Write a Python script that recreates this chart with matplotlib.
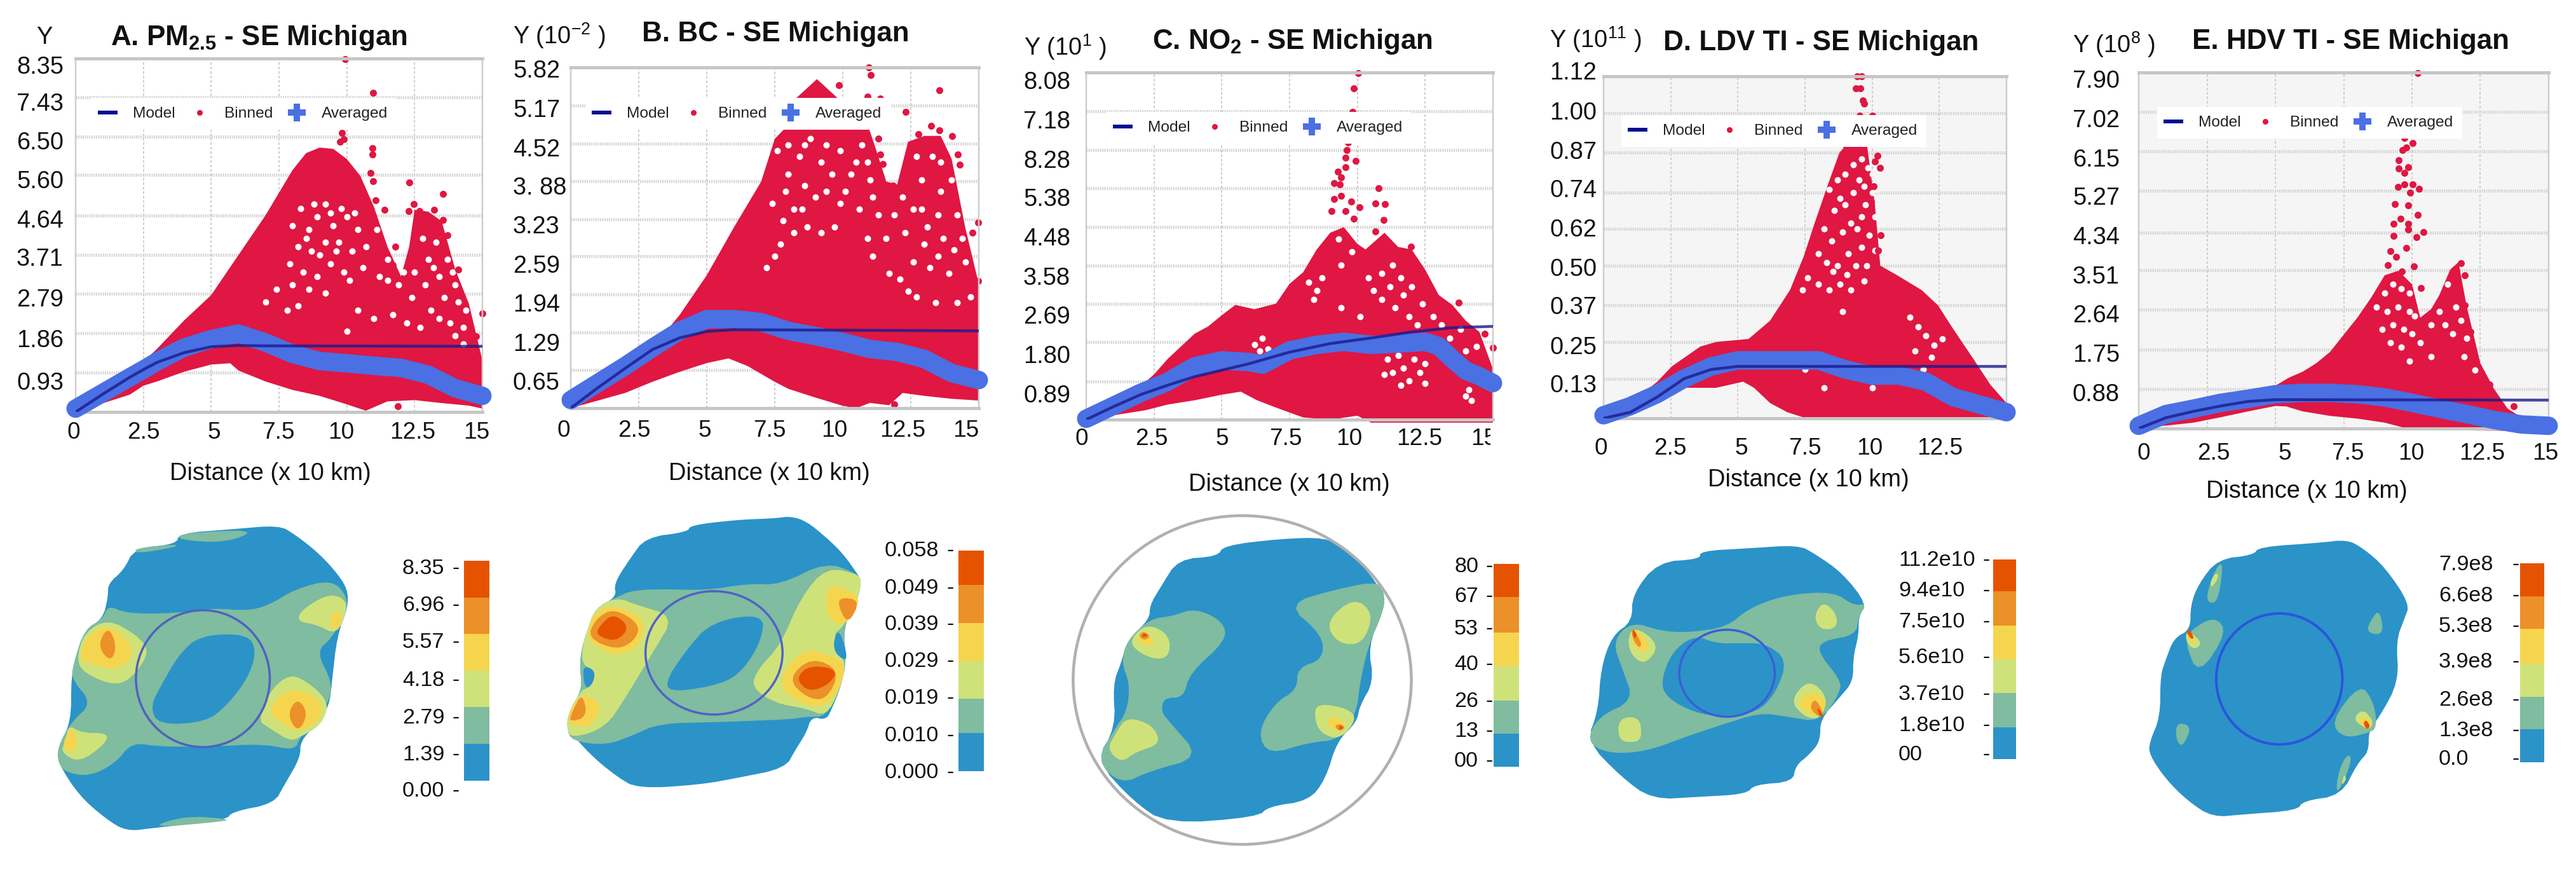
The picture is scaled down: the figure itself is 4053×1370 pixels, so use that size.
import matplotlib
matplotlib.use("Agg")
import matplotlib.pyplot as plt
import numpy as np
from matplotlib.lines import Line2D
from matplotlib.patches import Ellipse, Rectangle

plt.rcParams['font.family'] = ['Liberation Sans', 'DejaVu Sans']
plt.rcParams['mathtext.fontset'] = 'custom'
plt.rcParams['mathtext.rm'] = 'Liberation Sans'
plt.rcParams['mathtext.bf'] = 'Liberation Sans:bold'

W, H = 4053, 1370
PX = 0.72  # px to points at dpi 100

RED = '#df1742'
BLUE = '#4a70e4'
NAVY = '#1a1a8c'
MAP_COLORS = ['#2b93c8', '#7fbca0', '#cfe27a', '#f6d54e', '#ec9029', '#e55300']

x_tick_vals = [0, 2.5, 5, 7.5, 10, 12.5, 15]

# ---- A. PM2.5
a_yticks = [0.93, 1.86, 2.79, 3.71, 4.64, 5.60, 6.50, 7.43, 8.35]
a_ylabels = ['0.93', '1.86', '2.79', '3.71', '4.64', '5.60', '6.50', '7.43', '8.35']
a_upper = [(0, .08), (1, .52), (2, .88), (2.5, 1.19), (3, 1.49), (4, 2.16), (5, 2.76), (6, 3.70), (7, 4.64), (8, 5.71),
           (8.5, 6.11), (9, 6.24), (9.5, 6.21), (10, 5.97), (10.5, 5.57), (11, 4.84), (11.5, 3.9), (12, 3.2), (12.3, 3.9),
           (12.5, 4.77), (13, 4.73), (13.5, 4.5), (14, 3.36), (14.5, 2.56), (15, 1.22)]
a_lower = [(0, 0), (2, .41), (2.5, .62), (3, .72), (4, .95), (5, 1.12), (5.7, 1.15), (6, .98), (7, .72), (8, .52), (9, .38),
           (10, .18), (10.7, .03), (11.5, .25), (12.5, .28), (13.5, .21), (14.5, .15), (15, .08)]
a_avg = [(0, .08), (1, .45), (2, .82), (2.5, 1.0), (3, 1.19), (4, 1.52), (5, 1.72), (6, 1.85), (7, 1.64), (8, 1.37), (9, 1.2),
         (10, 1.15), (11, 1.09), (12, 1.04), (13, .88), (14, .56), (15, .38)]
a_model = [(0, 0), (1, .42), (2, .82), (2.5, 1.0), (3, 1.17), (4, 1.40), (5, 1.54), (6, 1.57), (7, 1.56), (15, 1.55)]
a_out = [(9.93, 8.33), (10.98, 7.53), (9.81, 6.58), (9.89, 6.44), (9.75, 6.38), (10.94, 6.23), (10.94, 6.07), (10.88, 5.64),
         (10.98, 5.44), (12.3, 5.41), (13.54, 5.14), (11.07, 5.0), (11.4, 4.77), (12.47, 4.9), (12.28, 4.74), (12.67, 4.74),
         (13.21, 4.77), (13.54, 4.53), (11.31, 3.9), (11.7, 3.46), (11.79, 3.9), (13.7, 4.17), (14.12, 3.36), (15, 2.32),
         (14.77, 1.79), (11.89, .13)]
a_holes = [(8.0, 4.4), (8.3, 4.8), (8.6, 4.3), (8.9, 4.6), (9.2, 4.9), (9.5, 4.4), (9.7, 4.0), (9.2, 4.0), (8.7, 3.8), (8.2, 3.9),
           (7.9, 3.5), (8.4, 3.3), (8.9, 3.2), (9.4, 3.5), (9.9, 3.3), (10.2, 3.8), (10.4, 4.3), (10.0, 4.6), (10.6, 3.4), (7.4, 2.9),
           (7.0, 2.6), (7.8, 2.4), (8.2, 2.5), (10.4, 2.4), (11.0, 2.2), (11.7, 2.3), (12.2, 2.1), (10.0, 1.9), (11.2, 3.2), (11.5, 3.1),
           (13.0, 3.6), (13.4, 3.2), (12.9, 3.0), (13.6, 2.7), (13.1, 2.4), (13.8, 2.1), (14.1, 2.6), (14.3, 2.0), (12.8, 4.1), (13.3, 4.0),
           (14.3, 1.6), (12.7, 2.0), (13.9, 3.3), (8.5, 4.1), (8.8, 4.9), (9.4, 4.7), (9.8, 4.8), (10.3, 4.7), (9.0, 3.7), (9.6, 3.8),
           (10.1, 3.1), (10.7, 3.9), (11.1, 4.3), (11.5, 3.6), (11.9, 3.0), (12.1, 3.3), (13.2, 3.4), (13.7, 3.6), (14.0, 3.0), (14.4, 2.4),
           (12.5, 3.3), (12.4, 2.7), (13.4, 2.2), (14.0, 1.8), (8.6, 2.9), (8.0, 3.0), (9.2, 2.8)]

# ---- B. BC
b_yticks = [0.65, 1.29, 1.94, 2.59, 3.23, 3.88, 4.52, 5.17, 5.82]
b_ylabels = ['0.65', '1.29', '1.94', '2.59', '3.23', '3. 88', '4.52', '5.17', '5.82']
b_upper = [(0, .09), (2.5, .72), (3, 1.03), (4, 1.59), (5, 2.27), (6, 3.09), (7, 3.87), (7.5, 4.6), (8, 4.84), (8.3, 5.3), (9.05, 5.62),
           (9.8, 5.3), (10, 5.2), (10.8, 5.0), (11.2, 4.45), (11.6, 3.87), (12, 3.82), (12.4, 4.55), (13, 4.65), (13.6, 4.65),
           (14, 4.26), (14.5, 3.09), (15, 2.12)]
b_lower = [(0, 0), (2, .26), (3, .45), (4, .62), (5, .77), (5.8, .85), (6.5, .72), (7.5, .45), (8, .33), (9, .18), (10, .04),
           (10.5, 0), (11, .09), (11.7, .05), (12.2, .26), (13, .21), (14, .16), (15, .13)]
b_avg = [(0, .14), (1, .43), (2, .72), (3, 1.03), (4, 1.32), (5, 1.52), (6, 1.52), (7, 1.47), (8, 1.32), (9, 1.23), (10, 1.13),
         (11, 1.01), (12, .96), (13, .84), (14, .6), (15, .48)]
b_model = [(0, 0), (1, .35), (2, .68), (3, 1.0), (4, 1.2), (5, 1.31), (6, 1.34), (15, 1.32)]
b_out = [(10.95, 5.82), (11.02, 5.69), (9.85, 5.52), (10.91, 5.32), (11.39, 5.29), (13.56, 5.43), (12.31, 5.06), (13.25, 4.82),
         (13.56, 4.74), (14.02, 4.65), (12.79, 4.68), (11.31, 4.6), (11.37, 4.33), (11.48, 4.17), (11.85, 3.8), (14.23, 4.33),
         (14.29, 4.16), (14.77, 3.0), (14.98, 3.17), (14.98, 2.17), (11.89, .06)]
b_holes = [(7.6, 4.4), (8.0, 4.0), (8.4, 4.3), (8.8, 4.6), (9.2, 4.2), (8.6, 3.8), (9.4, 3.7), (9.9, 4.4), (10.3, 4.0), (10.7, 4.5),
           (9.9, 3.5), (10.6, 3.4), (7.4, 3.5), (7.8, 3.2), (8.2, 3.4), (8.7, 3.1), (9.2, 3.0), (7.5, 2.6), (7.2, 2.4), (7.7, 2.8),
           (11.0, 3.9), (11.3, 3.3), (11.6, 2.9), (11.1, 2.6), (11.9, 3.3), (12.3, 3.0), (12.6, 3.4), (12.9, 3.9), (13.3, 4.3), (13.6, 3.7),
           (14.0, 3.9), (13.1, 3.1), (13.7, 2.9), (14.2, 3.3), (12.6, 2.5), (13.2, 2.4), (13.9, 2.3), (14.5, 2.5), (12.1, 2.2), (12.7, 1.9),
           (13.4, 1.8), (14.2, 1.8), (14.7, 1.9), (11.7, 2.3), (8.0, 4.5), (8.6, 4.5), (9.4, 4.5), (9.0, 3.6), (8.2, 3.0), (9.6, 4.0),
           (10.1, 3.7), (10.5, 4.2), (10.9, 4.2), (11.1, 3.6), (12.2, 3.6), (12.7, 4.3), (13.6, 4.2), (13.0, 2.8), (14.4, 2.9), (12.9, 3.4),
           (13.5, 3.3), (14.1, 2.7), (13.5, 2.6), (7.9, 3.7), (8.5, 3.4), (9.7, 3.1), (10.9, 2.9), (12.4, 2.0)]

# ---- C. NO2 (third label really reads 8.28 in the source)
c_yticks = [0.89, 1.80, 2.69, 3.58, 4.48, 5.38, 6.28, 7.18, 8.08]
c_ylabels = ['0.89', '1.80', '2.69', '3.58', '4.48', '5.38', '8.28', '7.18', '8.08']
c_upper = [(0, .22), (1, .52), (2, .78), (2.5, 1.05), (3, 1.41), (4, 2.0), (4.5, 2.17), (5, 2.43), (5.5, 2.67), (6.2, 2.57), (7, 2.7),
           (7.5, 3.16), (8, 3.43), (8.5, 3.96), (9, 4.35), (9.5, 4.48), (10, 4.09), (10.3, 3.96), (11, 4.35), (11.5, 4.02), (12, 3.96),
           (12.5, 3.49), (13, 2.9), (13.5, 2.67), (14, 2.3), (14.5, 2.04), (15, 1.18)]
c_lower = [(0, 0), (2.2, .22), (3, .35), (4, .45), (5, .58), (5.7, .65), (6.3, .45), (7, .28), (8, .05), (9, 0), (10, .09), (10.5, -.07), (15, -.07)]
c_avg = [(0, .02), (1, .32), (2, .62), (3, .88), (4, 1.24), (5, 1.38), (6, 1.34), (6.5, 1.28), (7.5, 1.61), (8.5, 1.74), (9.5, 1.81),
         (10.5, 1.74), (11.5, 1.77), (12.5, 1.81), (13, 1.71), (13.5, 1.41), (14, 1.14), (14.5, 1.01), (15, .85)]
c_model = [(0, 0), (1, .3), (2, .58), (3, .8), (4, 1.0), (5, 1.15), (6, 1.3), (7.5, 1.57), (9, 1.77), (10.5, 1.9), (12, 2.04), (13.5, 2.14), (15, 2.17)]
c_out = [(10.04, 8.07), (9.87, 7.71), (9.81, 7.16), (9.66, 6.45), (9.62, 6.27), (9.56, 6.1), (9.94, 6.02), (9.56, 5.87), (9.29, 5.77),
         (9.41, 5.64), (9.14, 5.51), (9.35, 5.48), (10.77, 5.38), (9.41, 5.21), (9.14, 5.13), (10.67, 5.03), (11.02, 5.01), (9.77, 5.08),
         (10.08, 4.95), (9.04, 4.85), (9.56, 4.85), (10.98, 4.65), (9.87, 4.68), (10.67, 4.38), (11.97, 4.02), (13.74, 2.73), (14.69, 2.0),
         (15, 1.67), (4.75, 2.17)]
c_holes = [(8.2, 3.2), (8.5, 3.0), (8.7, 3.3), (8.4, 2.8), (10.4, 3.3), (10.6, 3.0), (10.9, 3.4), (10.9, 2.8), (11.2, 3.1), (11.4, 2.6),
           (11.7, 2.9), (11.9, 2.4), (12.2, 2.2), (12.4, 2.7), (13.4, 1.9), (13.8, 2.1), (14.0, 1.6), (14.4, 1.7), (6.2, 1.75), (6.5, 1.9),
           (6.7, 1.65), (6.4, 1.6), (11.1, 1.4), (11.3, 1.1), (11.5, 1.5), (11.7, 1.2), (11.9, .9), (12.1, 1.4), (12.3, 1.1), (12.5, .85),
           (11.6, .8), (14.0, .55), (14.2, .45), (14.1, .7), (9.4, 2.6), (9.4, 3.6), (10.1, 2.4), (9.8, 3.9), (9.3, 4.2), (11.3, 3.6),
           (11.6, 3.3), (12.0, 3.1), (12.8, 2.4), (13.1, 2.2), (11.0, 1.05), (12.5, 1.3)]

# ---- D. LDV TI
d_yticks = [0.13, 0.25, 0.37, 0.50, 0.62, 0.74, 0.87, 1.00, 1.12]
d_ylabels = ['0.13', '0.25', '0.37', '0.50', '0.62', '0.74', '0.87', '1.00', '1.12']
d_upper = [(0, .01), (1, .05), (2, .12), (2.54, .17), (3.6, .235), (4.19, .25), (5.4, .26), (6.2, .32), (6.94, .42), (7.45, .53), (7.86, .64),
           (8.37, .77), (8.78, .87), (9.09, .9), (9.8, .9), (10.1, .7), (10.3, .5), (10.9, .47), (11.84, .42), (12.45, .37), (12.96, .3),
           (13.8, .19), (14.4, .11), (15, .05)]
d_lower = [(0, 0), (1, .02), (2, .06), (3, .1), (4.19, .1), (5.2, .12), (5.6, .1), (6.2, .05), (6.84, .02), (7.55, 0), (15, 0)]
d_avg = [(0, .01), (1, .04), (2, .08), (3, .13), (4, .17), (5, .19), (6, .19), (7, .19), (8, .19), (9, .16), (10, .14), (11, .14), (12, .12),
         (13, .07), (14, .045), (15, .02)]
d_model = [(0, 0), (1, .02), (2, .07), (3, .13), (4, .16), (5, .17), (15, .17)]
d_out = [(9.45, 1.12), (9.6, 1.12), (9.39, 1.08), (9.55, 1.08), (9.66, 1.04), (9.7, 1.03), (9.53, .99), (10.0, .99), (9.04, .89), (9.29, .89),
         (10.2, .86), (10.3, .82), (10.1, .84), (10.06, .76), (9.96, .71), (10.31, .6), (10.21, .55), (10.1, .51), (9.39, .07)]
d_holes = [(8.4, .75), (8.7, .78), (9.0, .8), (9.3, .83), (9.6, .85), (8.6, .68), (9.0, .7), (9.3, .74), (9.7, .76), (10.0, .74), (10.0, .8),
           (8.2, .62), (8.5, .58), (8.9, .61), (9.2, .64), (9.6, .66), (9.9, .6), (9.6, .56), (8.0, .54), (8.3, .51), (8.7, .5), (9.1, .54),
           (9.4, .5), (9.8, .5), (10.1, .66), (7.6, .46), (8.0, .44), (8.4, .42), (8.8, .44), (9.2, .42), (7.4, .42), (10.1, .55),
           (11.4, .33), (11.7, .3), (12.0, .27), (12.3, .24), (11.6, .22), (11.9, .16), (12.2, .2), (12.6, .26), (10.0, .1), (8.2, .1),
           (7.5, .16), (8.9, .35), (8.8, .72), (9.45, .62), (9.75, .7), (10.2, .75), (9.85, .82), (9.5, .78), (8.55, .48), (9.7, .45), (9.05, .47)]

# ---- E. HDV TI
e_yticks = [0.88, 1.75, 2.64, 3.51, 4.34, 5.27, 6.15, 7.02, 7.90]
e_ylabels = ['0.88', '1.75', '2.64', '3.51', '4.34', '5.27', '6.15', '7.02', '7.90']
e_upper = [(0, .1), (1, .38), (2, .38), (3, .57), (4, .72), (4.6, .88), (5, .95), (5.5, 1.13), (6, 1.26), (6.5, 1.45), (7, 1.7), (7.5, 2.08),
           (8, 2.46), (8.5, 2.9), (9, 3.4), (9.5, 3.5), (10, 3.2), (10.3, 2.46), (10.7, 2.65), (11, 2.96), (11.4, 3.53), (11.7, 3.69), (12, 2.71),
           (12.5, 1.45), (13, .88), (13.5, .44), (14, .25), (15, .1)]
e_lower = [(0, 0), (2, .13), (3, .25), (4, .38), (5, .5), (5.4, .49), (6, .38), (7, .28), (8, .22), (9, .13), (10, -.03), (15, -.06)]
e_avg = [(0, .06), (1, .32), (2, .44), (3, .57), (4, .66), (5, .76), (6, .79), (7, .79), (8, .76), (9, .69), (10, .57), (11, .44), (12, .32),
         (13, .19), (14, .09), (15, .06)]
e_model = [(0, 0), (1, .24), (2, .38), (3, .5), (4, .6), (5, .64), (15, .63)]
e_out = [(10.22, 7.89), (9.72, 6.44), (10.02, 6.33), (9.78, 6.24), (9.66, 6.18), (9.52, 5.95), (9.52, 5.77), (9.86, 5.8), (9.72, 5.67), (9.48, 5.36),
         (9.72, 5.42), (10.02, 5.42), (10.26, 5.32), (9.92, 5.23), (9.38, 4.98), (9.86, 4.95), (10.22, 4.74), (9.58, 4.66), (9.32, 4.54), (9.86, 4.54),
         (9.86, 4.41), (10.42, 4.36), (10.16, 4.25), (9.32, 4.28), (9.78, 4.0), (9.22, 3.94), (9.42, 3.81), (9.12, 3.62), (10.06, 3.6), (9.62, 3.48),
         (11.79, 3.67), (11.63, 3.5), (11.93, 3.4), (11.53, 3.12), (11.93, 2.74), (11.22, 2.9), (10.32, 3.12), (9.72, 2.84), (12.13, 2.14), (12.23, 1.7),
         (13.73, .5), (12.83, .98)]
e_holes = [(8.7, 2.7), (9.0, 3.0), (9.3, 3.2), (9.6, 3.1), (9.9, 3.0), (9.1, 2.6), (9.5, 2.7), (9.9, 2.6), (9.3, 2.3), (9.7, 2.2), (10.1, 2.5), (8.9, 2.2),
           (9.2, 1.9), (9.6, 1.8), (10.0, 2.1), (10.3, 1.9), (10.7, 2.3), (11.0, 2.6), (11.3, 3.2), (11.6, 2.7), (11.2, 2.3), (11.5, 2.1), (11.8, 2.4),
           (12.0, 2.0), (10.7, 1.6), (9.9, 1.5), (11.9, 1.6), (12.3, 1.3)]

# ---- colour bars
a_levels, a_cb = [0, 1.39, 2.79, 4.18, 5.57, 6.96, 8.35], ['0.00', '1.39', '2.79', '4.18', '5.57', '6.96', '8.35']
b_levels, b_cb = [0, .010, .019, .029, .039, .049, .058], ['0.000', '0.010', '0.019', '0.029', '0.039', '0.049', '0.058']
c_levels, c_cb = [0, 13, 26, 40, 53, 67, 80], ['00', '13', '26', '40', '53', '67', '80']
d_levels, d_cb = [0, 1.8, 3.7, 5.6, 7.5, 9.4, 11.2], ['00', '1.8e10', '3.7e10', '5.6e10', '7.5e10', '9.4e10', '11.2e10']
e_levels, e_cb = [0, 1.3, 2.6, 3.9, 5.3, 6.6, 7.9], ['0.0', '1.3e8', '2.6e8', '3.9e8', '5.3e8', '6.6e8', '7.9e8']

# ---- map regions, as (colour class, outline) in map units
map_a = [
    (0, [(530, 295), (560, 330), (600, 390), (635, 460), (660, 530), (660, 600), (640, 700), (630, 870), (625, 960), (600, 1030), (570, 1090), (570, 1150),
         (540, 1250), (520, 1320), (440, 1350), (430, 1380), (290, 1410), (240, 1422), (200, 1375), (150, 1290), (110, 1170), (110, 1110), (135, 1020),
         (135, 850), (145, 790), (160, 680), (195, 640), (205, 560), (205, 510), (235, 460), (255, 380), (335, 365), (340, 325), (440, 310)]),
    (1, [(340, 325), (490, 310), (430, 360), (340, 350)]),
    (1, [(280, 1410), (350, 1365), (430, 1375), (430, 1385)]),
    (1, [(255, 380), (335, 365), (335, 375), (260, 400)]),
    (1, [(205, 590), (240, 620), (330, 620), (400, 600), (470, 610), (510, 590), (560, 530), (630, 495), (660, 560), (655, 620), (630, 710), (600, 760), (630, 870),
         (625, 950), (570, 1070), (560, 1125), (500, 1100), (400, 1110), (300, 1110), (250, 1095), (220, 1170), (170, 1220), (125, 1205), (110, 1170), (110, 1110),
         (135, 1020), (175, 950), (135, 860), (140, 800), (160, 680), (195, 640)]),
    (0, [(380, 700), (470, 695), (487, 760), (470, 860), (430, 960), (390, 1020), (300, 1030), (285, 960), (310, 870), (340, 770)]),
    (2, [(205, 640), (260, 700), (285, 760), (250, 860), (215, 885), (160, 840), (145, 790), (160, 690)]),
    (2, [(620, 550), (650, 560), (660, 600), (640, 700), (600, 660), (565, 650), (570, 610)]),
    (2, [(130, 1030), (155, 1060), (205, 1060), (200, 1100), (150, 1170), (115, 1130), (125, 1090)]),
    (2, [(550, 840), (590, 880), (625, 950), (610, 1030), (570, 1075), (550, 1090), (510, 1040), (490, 1015), (510, 910)]),
    (3, [(205, 660), (250, 730), (250, 790), (215, 830), (165, 800), (150, 790), (165, 700)]),
    (3, [(565, 895), (610, 940), (610, 1010), (565, 1060), (530, 1020), (510, 980), (530, 920)]),
    (3, [(135, 1030), (145, 1070), (145, 1130), (115, 1120)]),
    (3, [(640, 600), (650, 650), (635, 690), (625, 640)]),
    (4, [(205, 665), (222, 740), (210, 800), (185, 740)]),
    (4, [(565, 930), (585, 990), (565, 1060), (545, 990)]),
]
map_b = [
    (0, [(1500, 262), (1530, 280), (1568, 340), (1600, 400), (1627, 474), (1635, 500), (1627, 573), (1600, 670), (1606, 800), (1595, 894), (1579, 969), (1568, 1012),
         (1540, 1000), (1530, 1060), (1510, 1120), (1490, 1190), (1400, 1225), (1330, 1250), (1210, 1265), (1170, 1220), (1120, 1140), (1075, 1040), (1080, 980),
         (1105, 900), (1100, 810), (1105, 740), (1115, 680), (1130, 600), (1170, 560), (1165, 510), (1195, 420), (1225, 340), (1305, 320), (1310, 295), (1400, 275), (1470, 270)]),
    (1, [(1170, 560), (1200, 535), (1260, 530), (1340, 535), (1420, 510), (1480, 515), (1568, 430), (1627, 474), (1635, 500), (1627, 573), (1600, 670), (1606, 800), (1595, 894),
         (1568, 1000), (1530, 1000), (1500, 1010), (1360, 1020), (1250, 1025), (1200, 1070), (1150, 1105), (1085, 1090), (1075, 1040), (1080, 980), (1105, 900), (1100, 810), (1105, 740),
         (1115, 680), (1130, 600)]),
    (0, [(1350, 650), (1450, 620), (1445, 720), (1410, 830), (1370, 880), (1280, 910), (1260, 880), (1300, 760)]),
    (2, [(1170, 560), (1210, 590), (1280, 630), (1240, 760), (1190, 920), (1150, 1040), (1085, 1080), (1075, 1040), (1080, 980), (1105, 900), (1110, 900), (1125, 880), (1130, 830),
         (1105, 810), (1105, 740), (1115, 680), (1130, 600)]),
    (0, [(1105, 810), (1130, 830), (1125, 880), (1110, 900)]),
    (2, [(1440, 820), (1480, 740), (1520, 560), (1568, 450), (1627, 474), (1635, 500), (1627, 573), (1600, 670), (1579, 700), (1606, 800), (1595, 894), (1568, 1000), (1530, 970),
         (1470, 950), (1425, 890)]),
    (0, [(1590, 670), (1606, 754), (1606, 800), (1579, 754)]),
    (3, [(1170, 590), (1225, 640), (1215, 740), (1170, 780), (1120, 730), (1115, 680), (1130, 610)]),
    (3, [(1105, 910), (1145, 960), (1120, 1040), (1080, 1030), (1080, 980)]),
    (3, [(1530, 750), (1568, 770), (1606, 800), (1595, 894), (1568, 960), (1530, 960), (1480, 900), (1490, 820)]),
    (3, [(1568, 506), (1633, 550), (1622, 614), (1600, 668), (1568, 635)]),
    (4, [(1165, 600), (1215, 660), (1205, 720), (1170, 755), (1115, 710), (1130, 640)]),
    (4, [(1105, 910), (1115, 1000), (1080, 1020), (1085, 985)]),
    (4, [(1540, 780), (1595, 830), (1568, 940), (1530, 930), (1495, 860)]),
    (4, [(1590, 560), (1633, 570), (1611, 657), (1595, 614)]),
    (5, [(1165, 620), (1195, 670), (1170, 725), (1130, 700), (1140, 660)]),
    (5, [(1535, 810), (1590, 825), (1575, 880), (1535, 910), (1510, 860)]),
]
map_c = [
    (0, [(880, 340), (910, 380), (950, 450), (985, 560), (980, 620), (955, 740), (965, 870), (940, 960), (935, 1020), (900, 1090), (880, 1230), (850, 1310), (780, 1330), (760, 1370),
         (600, 1395), (540, 1310), (475, 1160), (510, 1040), (505, 880), (520, 800), (530, 720), (570, 640), (570, 590), (590, 520), (620, 420), (690, 410), (700, 370), (800, 345)]),
    (1, [(570, 640), (610, 630), (650, 600), (700, 650), (705, 720), (640, 840), (630, 930), (595, 930), (590, 980), (605, 1020), (660, 1150), (570, 1200), (520, 1250), (475, 1160),
         (510, 1040), (530, 980), (535, 880), (520, 800), (530, 720)]),
    (1, [(810, 585), (900, 530), (975, 500), (985, 560), (980, 620), (955, 740), (940, 880), (935, 980), (905, 1085), (850, 1095), (780, 1140), (760, 1060), (790, 950), (830, 900),
         (830, 820), (875, 790), (875, 700)]),
    (2, [(570, 660), (605, 700), (605, 780), (575, 790), (535, 740), (545, 690)]),
    (2, [(530, 1000), (575, 1030), (590, 1100), (545, 1130), (520, 1170), (495, 1120), (510, 1060)]),
    (2, [(930, 560), (965, 620), (945, 735), (900, 730), (880, 650)]),
    (2, [(865, 950), (920, 970), (935, 1010), (905, 1085), (870, 1060), (860, 1000)]),
    (3, [(560, 690), (580, 720), (570, 745), (545, 720)]),
    (3, [(890, 995), (915, 1020), (905, 1060), (880, 1030)]),
    (4, [(560, 685), (572, 705), (560, 720), (550, 700)]),
    (4, [(905, 1025), (915, 1040), (905, 1055), (895, 1035)]),
    (5, [(560, 690), (568, 703), (555, 708)]),
    (5, [(905, 1030), (912, 1040), (903, 1050)]),
]
map_d = [
    (0, [(150, 368), (180, 400), (230, 470), (275, 585), (260, 630), (260, 700), (250, 780), (250, 870), (225, 930), (190, 1010), (190, 1090), (170, 1140), (145, 1180), (140, 1240), (70, 1250),
         (55, 1285), (-30, 1295), (-117, 1305), (-174, 1220), (-236, 1090), (-215, 980), (-210, 820), (-189, 700), (-153, 650), (-153, 550), (-106, 430), (-29, 420), (-29, 390), (60, 380)]),
    (1, [(-153, 650), (-101, 685), (-49, 690), (20, 670), (60, 600), (130, 550), (215, 540), (250, 590), (275, 585), (260, 630), (255, 700), (195, 720), (185, 760), (225, 860), (228, 905),
         (190, 1020), (130, 1000), (80, 985), (10, 1030), (-50, 1070), (-130, 1130), (-200, 1135), (-236, 1090), (-215, 1000), (-150, 940), (-170, 830), (-189, 720)]),
    (0, [(-101, 870), (-80, 760), (-39, 700), (0, 730), (45, 730), (90, 730), (130, 790), (110, 910), (75, 985), (10, 1000), (-40, 985), (-90, 930)]),
    (2, [(195, 575), (220, 620), (220, 675), (190, 680), (178, 630)]),
    (2, [(-178, 1005), (-140, 1000), (-135, 1070), (-145, 1095), (-178, 1090)]),
    (2, [(-153, 660), (-101, 735), (-132, 815), (-163, 750)]),
    (2, [(170, 860), (205, 930), (190, 1010), (160, 1000), (135, 940)]),
    (3, [(-153, 665), (-120, 730), (-132, 770), (-155, 730)]),
    (3, [(175, 905), (203, 940), (190, 1005), (160, 980), (150, 940)]),
    (4, [(-153, 672), (-135, 730), (-140, 750), (-153, 710)]),
    (4, [(180, 930), (195, 980), (190, 1005), (170, 970)]),
    (5, [(-153, 672), (-143, 700), (-150, 715)]),
    (5, [(182, 960), (197, 995), (190, 1005)]),
]
map_e = [
    (0, [(1150, 348), (1180, 380), (1220, 450), (1265, 585), (1255, 640), (1240, 720), (1245, 870), (1210, 1000), (1190, 1050), (1190, 1130), (1170, 1170), (1140, 1290), (1070, 1310),
         (1060, 1345), (960, 1360), (905, 1370), (860, 1310), (820, 1230), (790, 1140), (790, 1095), (810, 1000), (810, 850), (820, 790), (835, 710), (865, 680), (865, 590), (880, 510),
         (915, 420), (980, 405), (990, 375), (1100, 360)]),
    (1, [(915, 440), (925, 440), (915, 580), (895, 580), (897, 530)]),
    (1, [(1210, 605), (1218, 700), (1185, 690), (1195, 640)]),
    (1, [(840, 1020), (868, 1035), (850, 1115), (838, 1080)]),
    (1, [(910, 630), (932, 690), (880, 850), (855, 730), (865, 680)]),
    (1, [(1175, 875), (1200, 950), (1205, 1040), (1190, 1060), (1145, 1080), (1120, 1020)]),
    (1, [(1150, 1140), (1160, 1150), (1145, 1240), (1130, 1285), (1135, 1200)]),
    (2, [(910, 470), (918, 480), (905, 525), (900, 510)]),
    (2, [(860, 680), (888, 730), (870, 755), (855, 715)]),
    (2, [(1180, 970), (1200, 1020), (1190, 1050), (1160, 1010)]),
    (2, [(1145, 1210), (1150, 1230), (1140, 1255)]),
    (3, [(862, 680), (877, 720), (868, 730), (857, 700)]),
    (3, [(1183, 1000), (1197, 1030), (1188, 1050), (1170, 1015)]),
    (5, [(862, 675), (872, 710), (866, 715), (858, 690)]),
    (5, [(1185, 1010), (1193, 1035), (1187, 1048), (1180, 1025)]),
]

fig = plt.figure(figsize=(W / 100, H / 100), dpi=100, facecolor='white')


def px_axes(x0, y0, x1, y1):
    # axes placed by picture pixels
    return fig.add_axes([x0 / W, 1 - y1 / H, (x1 - x0) / W, (y1 - y0) / H])


def px_text(x, y, s, size, ha='left', va='center', **kw):
    return fig.text(x / W, 1 - y / H, s, fontsize=size * PX, ha=ha, va=va, color='#111111', **kw)


def round_corners(poly, passes=2):
    # corner cutting, so the map regions lose their hard polygon corners
    pts = np.array(poly, dtype=float)
    for _ in range(passes):
        nxt = np.roll(pts, -1, axis=0)
        pts = np.column_stack([0.75 * pts + 0.25 * nxt, 0.25 * pts + 0.75 * nxt]).reshape(-1, 2)
    return pts


def scatter_panel(box, top, face, yticks, ylabels, upper, lower, avg, model, out, holes, layout):
    ax = px_axes(*box)
    ax.set_xlim(0, 15)
    ax.set_ylim(0, top)
    ax.set_facecolor(face)
    ax.set_xticks(x_tick_vals)
    ax.set_yticks(yticks)
    ax.tick_params(length=0, labelleft=False, labelbottom=False)
    ax.set_axisbelow(True)
    ax.grid(axis='y', color='#d6d6d6', lw=5 * PX, ls=(0, (0.4, 0.3)))
    ax.grid(axis='x', color='#cfcfcf', lw=2 * PX, ls=(0, (2, 1.5)))
    for side in ['top', 'bottom']:
        ax.spines[side].set_color('#c6c6c6')
        ax.spines[side].set_linewidth(5 * PX)
    for side in ['left', 'right']:
        ax.spines[side].set_color('#cdcdcd')
        ax.spines[side].set_linewidth(2.5 * PX)

    ux, uy = np.array(upper).T
    lx, ly = np.array(lower).T
    ax.fill(np.r_[ux, lx[::-1]], np.r_[uy, ly[::-1]], color=RED, lw=0, zorder=2, clip_on=False)
    hx, hy = np.array(holes).T
    ax.plot(hx, hy, 'o', color=face, ms=10 * PX, mew=0, zorder=2.1)
    ox, oy = np.array(out).T
    ax.plot(ox, oy, 'o', color=RED, ms=11 * PX, mew=0, zorder=2.2, clip_on=False)
    ax.plot(*np.array(avg).T, color=BLUE, lw=29 * PX, solid_capstyle='round', solid_joinstyle='round', zorder=3, clip_on=False)
    ax.plot(*np.array(model).T, color=NAVY, lw=4.5 * PX, alpha=0.8, zorder=4)

    handles = [Line2D([], [], color='#000e90', lw=6 * PX),
               Line2D([], [], ls='', marker='o', color=RED, ms=9 * PX, mew=0),
               Line2D([], [], ls='', marker='P', color=BLUE, ms=28 * PX, mew=0)]
    lg_x, lg_y = layout['legend']
    ax.legend(handles, ['Model', 'Binned', 'Averaged'], ncol=3, loc='center left', bbox_to_anchor=(lg_x / W, 1 - lg_y / H),
              bbox_transform=fig.transFigure, fontsize=24.5 * PX, frameon=True, facecolor='white', edgecolor='none', framealpha=1,
              fancybox=False, borderaxespad=0, borderpad=0.55, handlelength=1, handletextpad=1.1, columnspacing=1.05,
              labelcolor='#222222')

    for lab, y in zip(ylabels, layout['ylab_y']):
        px_text(layout['ylab_x'], y, lab, 38)
    for lab, x in zip(layout['xlabs'], layout['xlab_x']):
        t = px_text(x, layout['xlab_y'], lab, 37, ha='center')
        if 'clip_x' in layout:
            t.set_clip_path(Rectangle((0, 0), layout['clip_x'], H, transform=None))
            t.set_clip_on(True)
    px_text(layout['xtitle'][0], layout['xtitle'][1], 'Distance (x 10 km)', 38, ha='center')
    px_text(layout['title'][0], layout['title'][1], layout['title'][2], 44, ha='left', fontweight='bold')
    px_text(layout['yname'][0], layout['yname'][1], layout['yname'][2], 38)
    return ax


def map_panel(window, xlim, regions, ellipse, ell_color, ell_lw):
    ax = px_axes(*window)
    ax.set_xlim(*xlim)
    ax.set_ylim(1568, 0)
    ax.axis('off')
    ax.patch.set_alpha(0)
    for cls, poly in regions:
        px_, py_ = round_corners(poly).T
        ax.fill(px_, py_, color=MAP_COLORS[cls], lw=0, clip_on=False)
    cx, cy, rx, ry = ellipse
    ax.add_patch(Ellipse((cx, cy), 2 * rx, 2 * ry, fill=False, ec=ell_color, lw=ell_lw * PX, clip_on=False))


def colour_bar(box, levels, labels, lab_x, dash_x, lab_y):
    ax = px_axes(*box)
    ax.set_xlim(0, 1)
    ax.set_ylim(levels[0], levels[-1])
    ax.axis('off')
    ax.bar(0.5, np.diff(levels), width=1, bottom=levels[:-1], color=MAP_COLORS, lw=0)
    for lab, y in zip(labels, lab_y):
        px_text(lab_x, y, lab, 34)
        px_text(dash_x, y, '-', 34, ha='center')


def z1(v):
    # y position read from the 2.24x crops
    return [t / 2.24 for t in v]


def z2(v):
    return [700 + t / 2.34 for t in v]


scatter_panel((119, 91.5, 759, 648), 8.35, 'white', a_yticks, a_ylabels, a_upper, a_lower, a_avg, a_model, a_out, a_holes, dict(
    legend=(144, 179), ylab_x=26, ylab_y=z1([1350, 1200, 1058, 915, 780, 640, 505, 367, 237]),
    xlabs=['0', '2.5', '5', '7.5', '10', '12.5', '15'], xlab_x=[116, 226, 337, 438, 537, 649, 750], xlab_y=681,
    xtitle=(425, 745), title=(174, 60, r'A. PM$\mathbf{_{2.5}}$ - SE Michigan'), yname=(57, 59, 'Y')))
scatter_panel((898, 106, 1540, 642), 5.82, 'white', b_yticks, b_ylabels, b_upper, b_lower, b_avg, b_model, b_out, b_holes, dict(
    legend=(921, 179), ylab_x=807, ylab_y=z1([1350, 1215, 1075, 938, 800, 662, 528, 390, 252]),
    xlabs=['0', '2.5', '5', '7.5', '10', '12.5', '15'], xlab_x=[887, 998, 1109, 1211, 1313, 1420, 1520], xlab_y=677,
    xtitle=(1210, 745), title=(1010, 53, 'B. BC - SE Michigan'), yname=(807, 56, r'Y (10$^{-2}$ )')))
scatter_panel((1709, 114, 2349, 660), 8.08, 'white', c_yticks, c_ylabels, c_upper, c_lower, c_avg, c_model, c_out, c_holes, dict(
    legend=(1741, 201), ylab_x=1610, ylab_y=z1([1395, 1257, 1118, 982, 842, 703, 570, 430, 292]),
    xlabs=['0', '2.5', '5', '7.5', '10', '12.5', '15'], xlab_x=[1702, 1812, 1923, 2023, 2123, 2233, 2335], xlab_y=691, clip_x=2345,
    xtitle=(2028, 762), title=(1813, 66, r'C. NO$\mathbf{_{2}}$ - SE Michigan'), yname=(1611, 74, r'Y (10$^{1}$ )')))
scatter_panel((2523, 120, 3157, 658), 1.12, '#f5f5f5', d_yticks, d_ylabels, d_upper, d_lower, d_avg, d_model, d_out, d_holes, dict(
    legend=(2551, 206), ylab_x=2438, ylab_y=z1([1360, 1225, 1085, 950, 812, 672, 537, 398, 258]),
    xlabs=['0', '2.5', '5', '7.5', '10', '12.5'], xlab_x=[2519, 2628, 2740, 2840, 2942, 3052], xlab_y=706,
    xtitle=(2845, 755), title=(2617, 67, 'D. LDV TI - SE Michigan'), yname=(2438, 62, r'Y (10$^{11}$ )')))
scatter_panel((3365, 114, 4010, 674), 7.90, '#f5f5f5', e_yticks, e_ylabels, e_upper, e_lower, e_avg, e_model, e_out, e_holes, dict(
    legend=(3394, 193), ylab_x=3261, ylab_y=z1([1390, 1252, 1113, 977, 838, 700, 565, 425, 287]),
    xlabs=['0', '2.5', '5', '7.5', '10', '12.5', '15'], xlab_x=[3373, 3483, 3595, 3694, 3794, 3905, 4005], xlab_y=713,
    xtitle=(3629, 773), title=(3449, 66, 'E. HDV TI - SE Michigan'), yname=(3261, 70, r'Y (10$^{8}$ )')))

map_panel((0, 700, 1300, 1370), (0, 1568), map_a, (385, 860, 127, 252), '#4f62bd', 3.5)
map_panel((0, 700, 1300, 1370), (0, 1568), map_b, (1355, 765, 130, 227), '#4f62c8', 3.5)
map_panel((1300, 700, 2700, 1370), (0, 1568), map_c, (733, 865, 298, 605), '#b0b0b0', 4.5)
map_panel((2700, 700, 4053, 1370), (0, 1568), map_d, (20, 840, 87, 160), '#3a5fd6', 3.5)
map_panel((2700, 700, 4053, 1370), (0, 1568), map_e, (1027, 861, 115, 241), '#2a55dc', 4)

colour_bar((730, 882, 769.5, 1228), a_levels, a_cb[::-1], 633, 717, z2([455, 592, 727, 868, 1005, 1140, 1275]))
colour_bar((1508, 866, 1548, 1213), b_levels, b_cb[::-1], 1392, 1495, z2([390, 527, 660, 797, 933, 1070, 1207]))
colour_bar((2350, 887, 2390, 1206), c_levels, c_cb[::-1], 2288, 2343, z2([447, 558, 677, 808, 945, 1055, 1165]))
colour_bar((3136, 880, 3172, 1194), d_levels, d_cb[::-1], 2987, 3125, z2([425, 538, 652, 783, 918, 1033, 1140]))
colour_bar((3965, 886, 4003, 1199), e_levels, e_cb[::-1], 3837, 3958, z2([442, 555, 667, 800, 940, 1052, 1158]))

plt.savefig('out.png', dpi=100)
